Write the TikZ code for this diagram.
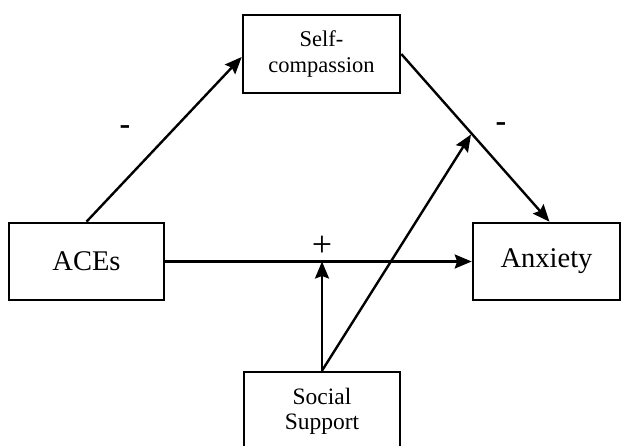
\documentclass[tikz,border=0pt]{standalone}
\usepackage{fontspec}
\setmainfont{Liberation Serif}
\usetikzlibrary{arrows.meta,calc}
\begin{document}
\begin{tikzpicture}[x=1pt,y=-1pt,
  box/.style={draw,line width=2.6pt,inner sep=0pt,align=center},
  conn/.style={line width=2.4pt,-{Stealth[length=17pt,width=14pt,inset=2.5pt]}},
  sign/.style={inner sep=0pt}]
\useasboundingbox[fill=white] (0,0) rectangle (624,446);
\node[box,minimum width=157pt,minimum height=78pt,font=\fontsize{22.5}{26}\selectfont] (self) at (321.5,54) {Self-\\compassion};
\node[box,minimum width=155pt,minimum height=77pt,font=\fontsize{28.5}{32}\selectfont] (aces) at (86.5,261.5) {ACEs};
\node[box,minimum width=147pt,minimum height=77pt,font=\fontsize{28.5}{32}\selectfont] (anx) at (546.5,261.5) {Anxiety};
\node[box,minimum width=156pt,minimum height=78pt,font=\fontsize{23.5}{25}\selectfont] (soc) at (322,411) {Social\\Support};
\coordinate (hit) at ($(self.east)!0.48!(anx.north)$);
\coordinate (mid) at (soc.north |- aces.east);
\draw[conn] (aces.north) -- ($(self.west)+(0,3)$);
\draw[conn] (self.east) -- ($(anx.north)+(3,0)$);
\draw[conn] (aces.east) -- (anx.west);
\draw[conn] (soc.north) -- (mid);
\draw[conn] (soc.north) -- (hit);
\node[sign,font=\fontsize{32}{32}\selectfont\bfseries] (s1) at (125,130) {-};
\node[sign,font=\fontsize{32}{32}\selectfont\bfseries] (s2) at (501,127) {-};
\node[sign,font=\fontsize{36}{36}\selectfont] (s3) at (322,246) {+};
\end{tikzpicture}
\end{document}
